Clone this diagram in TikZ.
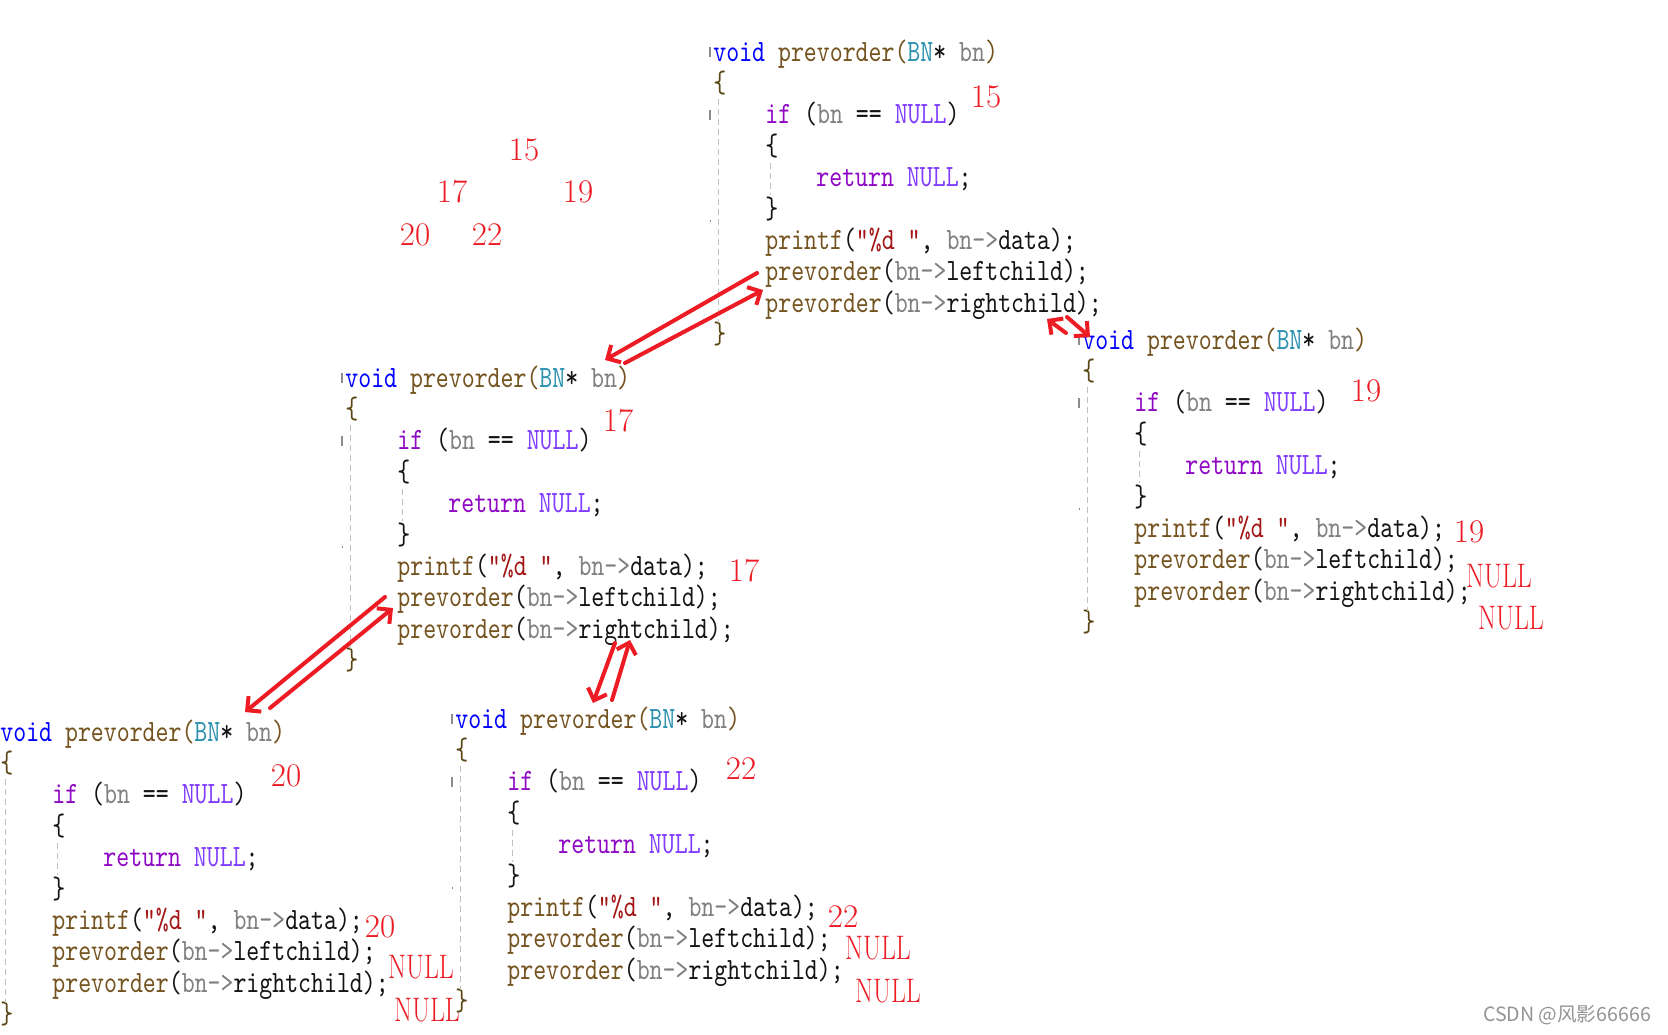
\documentclass[tikz,border=0pt]{standalone}
\usepackage{fontspec}
\usepackage{xcolor}
\usepackage{graphicx}
\usepackage{tikz}
\usetikzlibrary{arrows.meta}

\newfontfamily\codefont[FakeStretch=0.795]{lmmono10-regular.otf}
\newfontfamily\cjkfont{Noto Sans CJK SC}

\definecolor{codeblack}{RGB}{20,20,20}
\definecolor{voidblue}{RGB}{0,0,255}
\definecolor{fnbrown}{RGB}{116,83,31}
\definecolor{typeteal}{RGB}{43,145,175}
\definecolor{paramgray}{RGB}{128,128,128}
\definecolor{kwpurple}{RGB}{143,8,196}
\definecolor{nullviolet}{RGB}{128,60,255}
\definecolor{strred}{RGB}{163,21,21}
\definecolor{bracebrown}{RGB}{90,70,20}
\definecolor{markred}{RGB}{237,28,36}

\newcommand\cvoid[1]{\textcolor{voidblue}{#1}}
\newcommand\cfn[1]{\textcolor{fnbrown}{#1}}
\newcommand\ctype[1]{\textcolor{typeteal}{#1}}
\newcommand\cparam[1]{\textcolor{paramgray}{#1}}
\newcommand\ckw[1]{\textcolor{kwpurple}{#1}}
\newcommand\cnull[1]{\textcolor{nullviolet}{#1}}
\newcommand\cstr[1]{\textcolor{strred}{#1}}
\newcommand\cbrace[1]{\textcolor{bracebrown}{#1}}
\newcommand\nulltxt{\scalebox{0.76}[1]{NULL}}

\tikzset{
  codeline/.style={anchor=base west, inner sep=0pt, text=codeblack,
    font=\codefont\fontsize{15.5pt}{18pt}\selectfont},
  guide/.style={draw=black!25, line width=0.5pt, dash pattern=on 3pt off 2pt},
  outline mark/.style={draw=black!45, line width=0.6pt},
  redlabel/.style={text=markred, inner sep=0pt, font=\fontsize{16.5pt}{20pt}\selectfont},
  nulllabel/.style={text=markred, inner sep=0pt, font=\fontsize{17pt}{20pt}\selectfont},
  callarrow/.style={draw=markred, line width=2pt, line cap=round,
    -{Straight Barb[length=5pt,width=10pt]}},
}

% one call of prevorder, #1 = name, #2 = baseline of its first line
\newcommand\codeblock[2]{%
  \begin{scope}[shift={#2}]
    \node[codeline] (#1-head) at (0,0) {\cvoid{void} \cfn{prevorder(}\ctype{BN}* \cparam{bn}\cfn{)}};
    \node[codeline] (#1-open) at (0,31.4) {\cbrace{\{}};
    \node[codeline] (#1-if) at (52,62.8) {\ckw{if} (\cparam{bn} == \cnull{NULL})};
    \node[codeline] (#1-ifopen) at (52,94.2) {\{};
    \node[codeline] (#1-ret) at (103,125.6) {\ckw{return} \cnull{NULL};};
    \node[codeline] (#1-ifclose) at (52,157) {\}};
    \node[codeline] (#1-print) at (52,188.4) {\cfn{printf}(\cstr{"\%d "}, \cparam{bn->}data);};
    \node[codeline] (#1-left) at (52,219.8) {\cfn{prevorder}(\cparam{bn->}leftchild);};
    \node[codeline] (#1-right) at (52,251.2) {\cfn{prevorder}(\cparam{bn->}rightchild);};
    \node[codeline] (#1-close) at (0,282.6) {\cbrace{\}}};
    \draw[guide] (5,38) -- (5,262);
    \draw[guide] (57,102) -- (57,134);
    \draw[outline mark] (-3,-14) -- (-3,-4);
    \draw[outline mark] (-3,49) -- (-3,59);
    \draw[outline mark] (-3,160) -- (-2,160);
  \end{scope}}

\begin{document}
\begin{tikzpicture}[x=0.5pt, y=-0.5pt]
  \path[fill=white, use as bounding box] (0,0) rectangle (1668,1034);

  % the five calls
  \codeblock{root}{(713,61)}
  \codeblock{left}{(345,387)}
  \codeblock{right}{(1082,349)}
  \codeblock{leftleft}{(0,741)}
  \codeblock{leftright}{(455,728)}

  % the tree
  \node[redlabel] (t15) at (524,150) {15};
  \node[redlabel] (t17) at (452,192) {17};
  \node[redlabel] (t19) at (578,192) {19};
  \node[redlabel] (t20) at (415,235) {20};
  \node[redlabel] (t22) at (487,235) {22};

  % values beside the calls
  \node[redlabel] (root-val) at (986,97) {15};
  \node[redlabel] (left-val) at (618,421) {17};
  \node[redlabel] (left-out) at (744,571) {17};
  \node[redlabel] (right-val) at (1366,391) {19};
  \node[redlabel] (right-out) at (1469,532) {19};
  \node[nulllabel] (right-null1) at (1499,576) {\nulltxt};
  \node[nulllabel] (right-null2) at (1511,618) {\nulltxt};
  \node[redlabel] (leftleft-val) at (286,776) {20};
  \node[redlabel] (leftleft-out) at (380,927) {20};
  \node[nulllabel] (leftleft-null1) at (421,967) {\nulltxt};
  \node[nulllabel] (leftleft-null2) at (427,1010) {\nulltxt};
  \node[redlabel] (leftright-val) at (741,769) {22};
  \node[redlabel] (leftright-out) at (843,917) {22};
  \node[nulllabel] (leftright-null1) at (878,948) {\nulltxt};
  \node[nulllabel] (leftright-null2) at (888,991) {\nulltxt};

  % calls and returns
  \coordinate (callL-s) at (757,273);
  \coordinate (callL-e) at (605,360);
  \coordinate (backL-s) at (625,363);
  \coordinate (backL-e) at (763,290);
  \coordinate (callLL-s) at (385,597);
  \coordinate (callLL-e) at (245,712);
  \coordinate (backLL-s) at (270,708);
  \coordinate (backLL-e) at (393,608);
  \coordinate (callLR-s) at (615,643);
  \coordinate (callLR-e) at (593,703);
  \coordinate (backLR-s) at (612,700);
  \coordinate (backLR-e) at (630,640);
  \coordinate (callR-s) at (1067,317);
  \coordinate (callR-e) at (1090,337);
  \coordinate (backR-s) at (1066,333);
  \coordinate (backR-e) at (1047,319);

  \draw[callarrow] (callL-s) -- (callL-e);
  \draw[callarrow] (backL-s) -- (backL-e);
  \draw[callarrow] (callLL-s) -- (callLL-e);
  \draw[callarrow] (backLL-s) -- (backLL-e);
  \draw[callarrow] (callLR-s) -- (callLR-e);
  \draw[callarrow] (backLR-s) -- (backLR-e);
  \draw[callarrow] (callR-s) -- (callR-e);
  \draw[callarrow] (backR-s) -- (backR-e);

  \node[font=\cjkfont\fontsize{9.8pt}{12pt}\selectfont, text=black!42, inner sep=0pt] (mark) at (1567,1015) {CSDN @风影66666};
\end{tikzpicture}
\end{document}
